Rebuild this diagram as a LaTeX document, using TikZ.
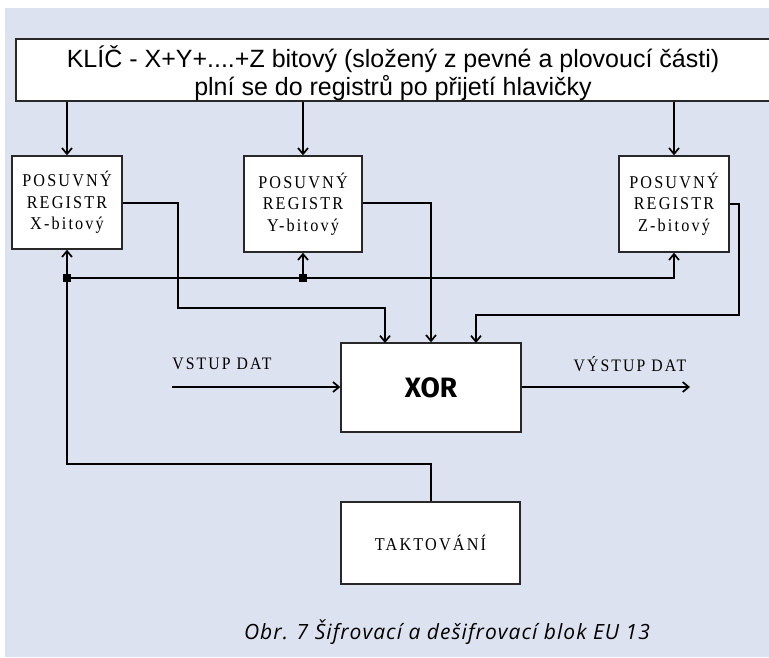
\documentclass[tikz,border=0pt]{standalone}
\usepackage{fontspec}
\setmainfont{Liberation Serif}
\newfontfamily\keyfont{Liberation Sans}
\newfontfamily\regfont[FakeStretch=0.9,LetterSpace=12]{Liberation Serif}
\newfontfamily\xorfont{Fira Sans}
\newfontfamily\capfont[LetterSpace=5]{Open Sans}
\usetikzlibrary{arrows.meta}
\definecolor{bgc}{RGB}{220,226,239}
\definecolor{bord}{RGB}{40,40,40}
\tikzset{
  box/.style={draw=bord, line width=1.4pt, fill=white, inner sep=0pt},
  reg/.style={box, minimum width=110pt, minimum height=95pt, align=center,
     font=\regfont\fontsize{18}{21.5}\selectfont},
  wire/.style={line width=2pt, black},
  arr/.style={wire, -{Straight Barb[length=6pt,width=10pt,line width=1.7pt]}},
  lbl/.style={font=\regfont\fontsize{17.5}{20}\selectfont, inner sep=0pt},
  jun/.style={fill=black, minimum size=8pt, inner sep=0pt}
}
\begin{document}
\begin{tikzpicture}[x=1pt,y=-1pt]
\useasboundingbox (0,0) rectangle (769,657);
\fill[bgc] (5,8) rectangle (769,657);
% key box
\node[box, minimum width=764pt, minimum height=62pt] (key) at (398,70) {};
\node[font=\keyfont\fontsize{25}{27.5}\selectfont, align=center, inner sep=0pt] (keytext) at (393,73)
  {KLÍČ - X+Y+....+Z bitový (složený z pevné a plovoucí části)\\plní se do registrů po přijetí hlavičky};
% registers
\node[reg, minimum width=110pt, minimum height=93pt] (X) at (67,202.5) {POSUVNÝ\\REGISTR\\X-bitový};
\node[reg, minimum width=118pt, minimum height=96pt] (Y) at (303,204) {POSUVNÝ\\REGISTR\\Y-bitový};
\node[reg, minimum width=110pt, minimum height=96pt] (Z) at (674,204) {POSUVNÝ\\REGISTR\\Z-bitový};
% xor and clock
\node[box, minimum width=180pt, minimum height=89pt, font=\xorfont\bfseries\fontsize{28}{30}\selectfont] (xor) at (431,387.5) {XOR};
\node[box, minimum width=179pt, minimum height=82pt, font=\regfont\fontsize{18}{20}\selectfont] (tak) at (430.5,543) {TAKTOVÁNÍ};
% key -> registers
\draw[arr] (key.south -| X.north) -- (X.north);
\draw[arr] (key.south -| Y.north) -- (Y.north);
\draw[arr] (key.south -| Z.north) -- (Z.north);
% clock bus
\coordinate (jx) at (67,278);
\coordinate (jy) at (303,278);
\coordinate (ck) at (430.5,464);
\draw[wire] (tak.north) -- (ck) -- (jx |- ck) -- (jx);
\draw[wire] (jx) -- (jy);
\draw[arr] (jy) -- (Z.south |- jy) -- (Z.south);
\draw[arr] (jx) -- (X.south);
\draw[arr] (jy) -- (Y.south);
\node[jun] (jxs) at (jx) {};
\node[jun] (jys) at (jy) {};
% register outputs to xor
\coordinate (xo) at (178,308);
\draw[arr] (X.east) -- (X.east -| xo) -- (xo) -- (385,308) -- (385,343);
\coordinate (yo) at (431,203);
\draw[arr] (Y.east |- yo) -- (yo) -- (yo |- xor.north);
\coordinate (zo) at (739,315);
\draw[arr] (Z.east |- 0,204) -- (739,204) -- (zo) -- (476,315) -- (476,343);
% data in/out
\coordinate (din) at (172,387);
\coordinate (dout) at (690,387);
\draw[arr] (din) -- (xor.west |- din);
\draw[arr] (xor.east |- dout) -- (dout);
\node[lbl] (vstup) at (222,364) {VSTUP DAT};
\node[lbl] (vystup) at (630,364) {VÝSTUP DAT};
% caption
\node[font=\capfont\itshape\fontsize{21}{24}\selectfont, inner sep=0pt] (cap) at (447,632) {Obr. 7 Šifrovací a dešifrovací blok EU 13};
\end{tikzpicture}
\end{document}
